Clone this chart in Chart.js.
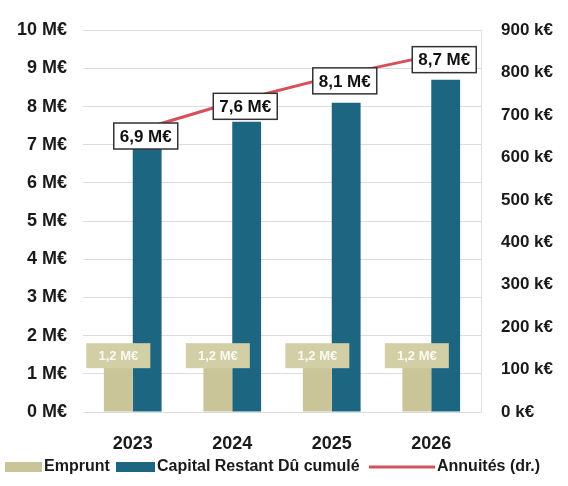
<!DOCTYPE html>
<html>
<head>
<meta charset="utf-8">
<script src="https://cdn.jsdelivr.net/npm/chart.js@4"></script>
<style>
  html, body { margin: 0; padding: 0; background: #fff; }
  canvas { display: block; }
</style>
</head>
<body>
<canvas id="chart" width="568" height="486"></canvas>
<script>
// Données (M€ pour les barres, k€ pour les annuités)
const years = ['2023', '2024', '2025', '2026'];
const emprunt = [1.2, 1.2, 1.2, 1.2];
const capitalRestant = [6.9, 7.6, 8.1, 8.7];
const annuites = [660, 730, 790, 840];
const seriesNames = ['Emprunt', 'Capital Restant Dû cumulé', 'Annuités (dr.)'];

const BEIGE = '#c9c599';
const TEAL = '#1c6682';
const RED = '#d6505b';
const TXT = '#1a1a1a';
const FONT = 'Liberation Sans, Arial, sans-serif';

const fmt = v => String(v).replace('.', ',');

// Étiquettes : montant de l'emprunt sur les barres beiges, capital sur la courbe
const valueLabels = {
  id: 'valueLabels',
  afterDatasetsDraw(chart) {
    const ctx = chart.ctx;
    ctx.save();
    ctx.textAlign = 'center';
    ctx.textBaseline = 'middle';

    // étiquettes "1,2 M€"
    ctx.font = 'bold 13px ' + FONT;
    chart.getDatasetMeta(0).data.forEach((bar, i) => {
      const cx = bar.x, cy = bar.y - 11;
      ctx.fillStyle = '#d2cea6';
      ctx.fillRect(cx - 32, cy - 12, 64, 25);
      ctx.fillStyle = '#fbfaf2';
      ctx.fillText(fmt(emprunt[i]) + ' M€', cx, cy + 1);
    });

    // étiquettes du capital posées sur la courbe
    ctx.font = 'bold 17px ' + FONT;
    chart.getDatasetMeta(2).data.forEach((pt, i) => {
      const txt = fmt(capitalRestant[i]) + ' M€';
      const w = ctx.measureText(txt).width + 12;
      const cx = pt.x + 13, cy = pt.y + 4;
      ctx.fillStyle = '#fff';
      ctx.fillRect(cx - w / 2, cy - 13, w, 26);
      ctx.strokeStyle = '#333';
      ctx.lineWidth = 1.5;
      ctx.strokeRect(cx - w / 2, cy - 13, w, 26);
      ctx.fillStyle = '#111';
      ctx.fillText(txt, cx, cy + 1);
    });
    ctx.restore();
  }
};

// Légende dessinée en bas
const bottomLegend = {
  id: 'bottomLegend',
  afterDraw(chart) {
    const ctx = chart.ctx;
    const y = 467;
    ctx.save();
    ctx.font = 'bold 16px ' + FONT;
    ctx.textBaseline = 'middle';
    ctx.textAlign = 'left';
    const marks = [
      { color: BEIGE, x: 5, w: 37, h: 10 },
      { color: TEAL, x: 116, w: 39, h: 10 },
      { color: RED, x: 369, w: 66, h: 3 }
    ];
    marks.forEach((m, i) => {
      ctx.fillStyle = m.color;
      ctx.fillRect(m.x, y - m.h / 2, m.w, m.h);
      ctx.fillStyle = TXT;
      ctx.fillText(seriesNames[i], m.x + m.w + 2, y);
    });
    ctx.restore();
  }
};

new Chart(document.getElementById('chart'), {
  data: {
    labels: years,
    datasets: [
      {
        type: 'bar',
        label: seriesNames[0],
        data: emprunt,
        backgroundColor: BEIGE,
        yAxisID: 'y',
        order: 2
      },
      {
        type: 'bar',
        label: seriesNames[1],
        data: capitalRestant,
        backgroundColor: TEAL,
        yAxisID: 'y',
        order: 3
      },
      {
        type: 'line',
        label: seriesNames[2],
        data: annuites,
        borderColor: RED,
        borderWidth: 3,
        pointRadius: 0,
        tension: 0,
        yAxisID: 'y1',
        order: 1
      }
    ]
  },
  options: {
    responsive: false,
    animation: false,
    datasets: {
      bar: { categoryPercentage: 0.58, barPercentage: 1.0 }
    },
    layout: { padding: { top: 25, bottom: 34, left: 0, right: 0 } },
    plugins: {
      legend: { display: false },
      tooltip: { enabled: false }
    },
    scales: {
      x: {
        grid: { display: false },
        border: { display: false },
        ticks: { color: TXT, font: { family: FONT, size: 18, weight: 'bold' }, padding: 13 },
        afterFit: s => { s.height = 40; }
      },
      y: {
        position: 'left',
        min: 0,
        max: 10,
        grid: { color: '#dcdcdc', drawTicks: false },
        border: { display: false },
        ticks: {
          stepSize: 1,
          padding: 16,
          color: TXT,
          font: { family: FONT, size: 18, weight: 'bold' },
          callback: v => v + ' M€'
        },
        afterFit: s => { s.width = 83; }
      },
      y1: {
        position: 'right',
        min: 0,
        max: 900,
        grid: { drawOnChartArea: false, drawTicks: false },
        border: { display: true, color: '#e2e2e2' },
        ticks: {
          stepSize: 100,
          padding: 20,
          color: TXT,
          font: { family: FONT, size: 17, weight: 'bold' },
          callback: v => v + ' k€'
        },
        afterFit: s => { s.width = 87; }
      }
    }
  },
  plugins: [valueLabels, bottomLegend]
});
</script>
</body>
</html>
